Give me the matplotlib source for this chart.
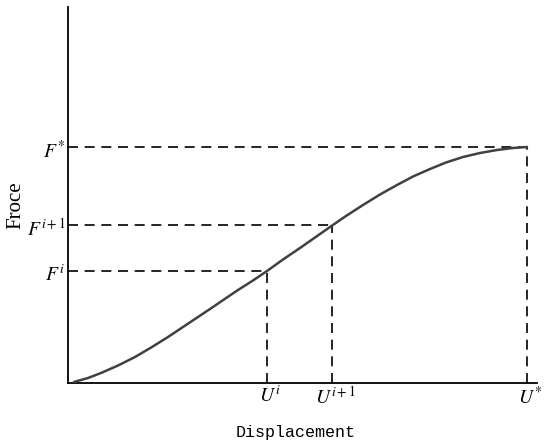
import numpy as np
import matplotlib.pyplot as plt

plt.rcParams['mathtext.fontset'] = 'stix'

# curve (displacement, force) in arbitrary units
disp = [6, 20, 33, 50, 67, 84, 100, 115, 130, 142, 156, 170, 185, 199, 215, 232,
        247, 262, 278, 295, 312, 329, 345, 362, 378, 395, 412, 429, 445, 459]
force = [1, 5, 10, 17.5, 26, 36, 46, 56, 66, 74, 83.5, 93, 102.5, 112, 123.5, 135,
         145.5, 156, 167, 178, 188.5, 198, 206.5, 214, 220.5, 226, 230, 233, 235, 236]

# marked points on the curve
mark_u = [199, 264, 459]
mark_f = [112, 158, 236]
u_labels = [r'$U^{i}$', r'$U^{i+1}$', r'$U^{*}$']
f_labels = [r'$F^{i}$', r'$F^{i+1}$', r'$F^{*}$']

fig = plt.figure(figsize=(5.5, 4.44), dpi=100)
ax = fig.add_axes([68/550, 61/444, 469/550, 376/444])

ax.plot(disp, force, color='#404040', lw=1.8, zorder=3, solid_capstyle='round')

for u, f in zip(mark_u, mark_f):
    ax.plot([0, u], [f, f], color='black', lw=1.2, linestyle=(0, (6, 4)))
    ax.plot([u, u], [0, f], color='black', lw=1.2, linestyle=(0, (6, 4)))

for u, lab in zip(mark_u, u_labels):
    ax.text(u + 3, -3, lab, ha='center', va='top', fontsize=14)
for f, lab in zip(mark_f, f_labels):
    ax.text(-3, f - 4, lab, ha='right', va='center', fontsize=14)

ax.set_xlim(0, 469)
ax.set_ylim(0, 376)
ax.set_xticks([])
ax.set_yticks([])
ax.spines['top'].set_visible(False)
ax.spines['right'].set_visible(False)
ax.spines['left'].set_linewidth(1.3)
ax.spines['bottom'].set_linewidth(1.3)

fig.text(296/550, 1 - 432/444, 'Displacement', ha='center', va='center',
         fontsize=12, family='Liberation Mono')
fig.text(16/550, 1 - 205/444, 'Froce', ha='center', va='center',
         rotation=90, fontsize=15, family='Liberation Serif')

plt.savefig('out.png', dpi=100)
